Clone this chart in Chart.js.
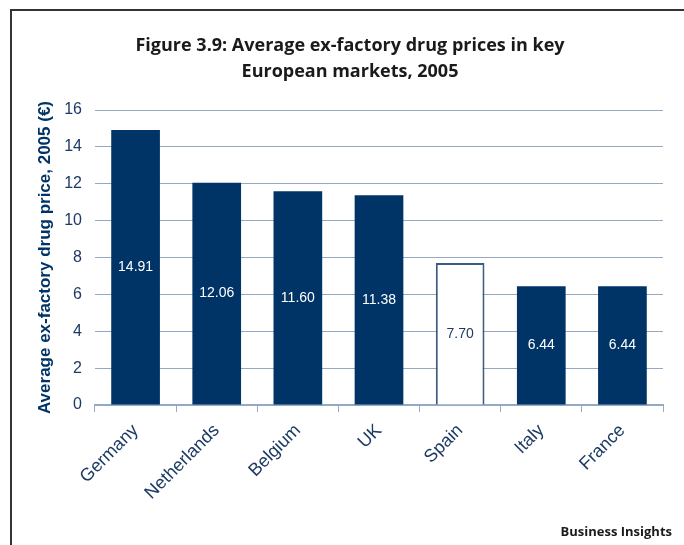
<!DOCTYPE html>
<html>
<head>
<meta charset="utf-8">
<script src="https://cdn.jsdelivr.net/npm/chart.js@4.4.1/dist/chart.umd.min.js"></script>
<style>
  html, body { margin: 0; padding: 0; background: #fff; }
  #wrap { width: 684px; height: 545px; position: relative; }
</style>
</head>
<body>
<div id="wrap"><canvas id="drugPrices" width="684" height="545"></canvas></div>
<script>
// Figure 3.9 data
const countries = ['Germany', 'Netherlands', 'Belgium', 'UK', 'Spain', 'Italy', 'France'];
const prices = [14.91, 12.06, 11.60, 11.38, 7.70, 6.44, 6.44];
const yTicks = [0, 2, 4, 6, 8, 10, 12, 14, 16];

const navy = '#003366';
const tickBlue = '#1c3a64';
const gridBlue = '#94a9c4';

// Spain is drawn as an outlined bar
const barFill = countries.map(c => c === 'Spain' ? '#ffffff' : navy);
const barBorder = countries.map(c => c === 'Spain' ? '#3d5a80' : navy);
const barBorderWidth = countries.map(c => c === 'Spain' ? 2 : 0);

// frame, title, footer and values inside the bars
const decorations = {
    id: 'decorations',
    beforeDraw(chart) {
        const ctx = chart.ctx;
        ctx.save();
        ctx.fillStyle = '#fff';
        ctx.fillRect(0, 0, chart.width, chart.height);
        ctx.strokeStyle = '#333';
        ctx.lineWidth = 2;
        ctx.beginPath();
        ctx.moveTo(11, chart.height);
        ctx.lineTo(11, 10);
        ctx.lineTo(chart.width, 10);
        ctx.stroke();

        ctx.fillStyle = '#1a1a1a';
        ctx.font = 'bold 18px "Open Sans"';
        ctx.textAlign = 'center';
        ctx.textBaseline = 'alphabetic';
        ctx.fillText('Figure 3.9: Average ex-factory drug prices in key', 350, 51);
        ctx.fillText('European markets, 2005', 350, 77);

        ctx.font = 'bold 13px "Open Sans"';
        ctx.textAlign = 'right';
        ctx.fillText('Business Insights', 672, 536);
        ctx.restore();
    },
    afterDatasetsDraw(chart) {
        const ctx = chart.ctx;
        const meta = chart.getDatasetMeta(0);
        ctx.save();
        ctx.font = '14px "Liberation Sans"';
        ctx.textAlign = 'center';
        ctx.textBaseline = 'middle';
        meta.data.forEach((bar, i) => {
            ctx.fillStyle = countries[i] === 'Spain' ? tickBlue : '#ffffff';
            const yMid = (bar.y + bar.base) / 2;
            ctx.fillText(prices[i].toFixed(2), bar.x, yMid);
        });
        ctx.restore();
    }
};

const chart = new Chart(document.getElementById('drugPrices'), {
    type: 'bar',
    data: {
        labels: countries,
        datasets: [{
            data: prices,
            backgroundColor: barFill,
            borderColor: barBorder,
            borderWidth: barBorderWidth,
            categoryPercentage: 1,
            barPercentage: 0.6
        }]
    },
    options: {
        responsive: false,
        animation: false,
        layout: { padding: { left: 35, top: 110, right: 21, bottom: 0 } },
        plugins: {
            legend: { display: false },
            tooltip: { enabled: false }
        },
        scales: {
            x: {
                afterFit(scale) { scale.height = 140; },
                border: { color: gridBlue, width: 2 },
                grid: { drawOnChartArea: false, drawTicks: true, tickLength: 7, color: gridBlue, offset: true },
                ticks: {
                    color: tickBlue,
                    font: { family: 'Liberation Sans', size: 18 },
                    minRotation: 45,
                    maxRotation: 45,
                    padding: 8
                }
            },
            y: {
                min: 0,
                max: 16,
                afterFit(scale) { scale.width = 60; },
                afterBuildTicks(scale) { scale.ticks = yTicks.map(v => ({ value: v })); },
                border: { display: false },
                grid: { color: gridBlue, lineWidth: 1, drawTicks: false },
                ticks: {
                    color: tickBlue,
                    font: { family: 'Liberation Sans', size: 16 },
                    padding: 13
                },
                title: {
                    display: true,
                    text: 'Average ex-factory drug price, 2005 (€)',
                    color: navy,
                    font: { family: 'Liberation Sans', size: 17, weight: 'bold' },
                    padding: { top: 0, bottom: 0 }
                }
            }
        }
    },
    plugins: [decorations]
});
</script>
</body>
</html>
